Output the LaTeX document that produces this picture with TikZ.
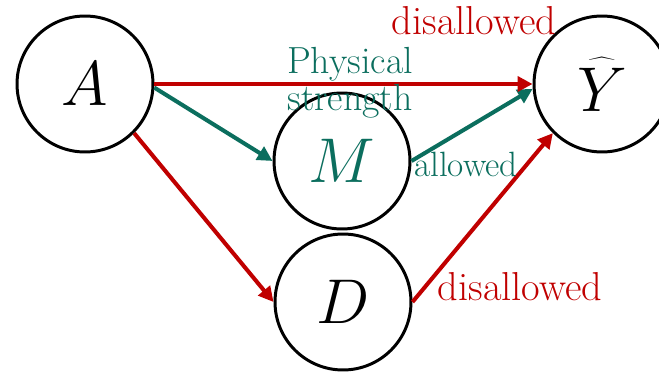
\RequirePackage{fix-cm}
\documentclass[tikz,border=0pt]{standalone}
\usepackage{tikz}
\usetikzlibrary{arrows.meta}
\definecolor{DisRed}{HTML}{C00000}
\definecolor{MedGreen}{HTML}{0B6E5E}
\begin{document}
\begin{tikzpicture}[x=0.02cm,y=-0.02cm,
  var/.style={circle,draw,line width=1.7pt,minimum size=2.72cm,inner sep=0pt,
    font=\fontsize{36}{40}\selectfont},
  arr/.style={-{Triangle[length=3mm,width=3mm]},line width=2.3pt},
  lab/.style={font=\fontsize{23}{21}\selectfont,inner sep=0pt}]
  \useasboundingbox (0,0) rectangle (659,372);
  % variables of the graph
  \node[var] (A) at (85,84) {$A$};
  \node[var] (M) at (342,161) {\color{MedGreen}$M$};
  \node[var] (D) at (343,302) {$D$};
  \node[var] (Yh) at (602,84) {$\widehat{\raisebox{0pt}[1.12\height]{$Y$}}$};
  % paths: mediator allowed, direct and proxy disallowed
  \draw[arr,MedGreen] (A.-3) -- (M.west);
  \draw[arr,MedGreen] (M.east) -- (Yh.184);
  \draw[arr,DisRed] (A.east) -- (Yh.west);
  \draw[arr,DisRed] (A.south east) -- (D.west);
  \draw[arr,DisRed] (D.east) -- (Yh.south west);
  \node[lab,DisRed] (dis1) at (474,21) {disallowed};
  \node[lab,MedGreen,align=center,font=\fontsize{21.5}{21}\selectfont] (phys) at (350,83)
    {Physical\\strength};
  \node[lab,MedGreen,font=\fontsize{20}{21}\selectfont] (allow) at (466,164) {allowed};
  \node[lab,DisRed] (dis2) at (520,287) {disallowed};
\end{tikzpicture}
\end{document}
